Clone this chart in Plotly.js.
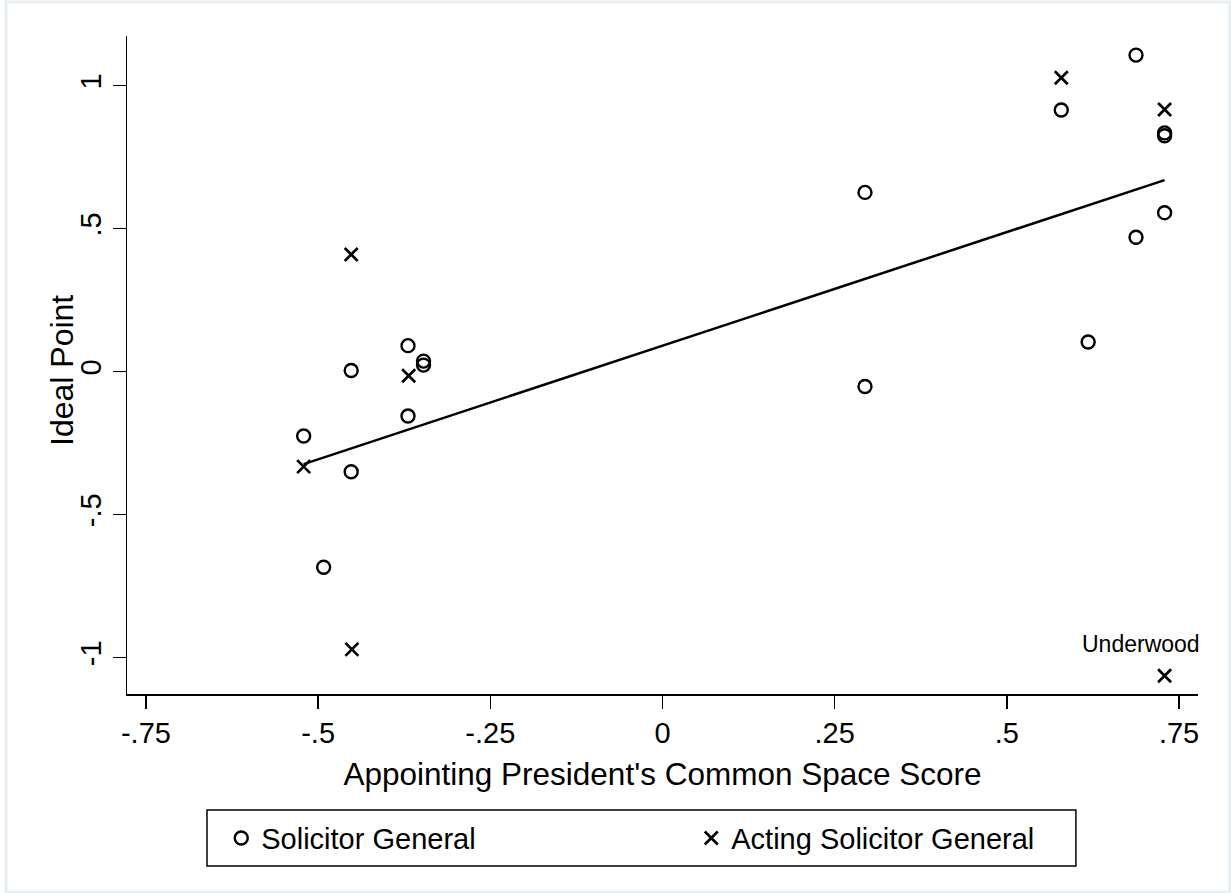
<!DOCTYPE html>
<html>
<head>
<meta charset="utf-8">
<script src="https://cdn.plot.ly/plotly-3.0.1.min.js"></script>
<style>html,body{margin:0;padding:0;background:#fff;}</style>
</head>
<body>
<div id="chart" style="width:1231px;height:893px;"></div>
<script>
// Solicitor General (circles)
const sgX = [-0.3695, -0.347, -0.347, -0.452, -0.3695, -0.521, -0.452, -0.492,
             0.294, 0.294, 0.618, 0.6875, 0.579, 0.729, 0.729, 0.729, 0.6875];
const sgY = [0.091, 0.037, 0.023, 0.004, -0.155, -0.225, -0.350, -0.684,
             0.627, -0.052, 0.104, 1.107, 0.915, 0.835, 0.825, 0.556, 0.470];
// Acting Solicitor General (x)
const actX = [-0.452, -0.3685, -0.521, -0.451, 0.579, 0.729, 0.729];
const actY = [0.410, -0.014, -0.332, -0.971, 1.028, 0.917, -1.063];
const labelName = "Underwood";
const labelX = 0.729, labelY = -1.063;

// fitted line endpoints
const fitX = [-0.521, 0.729];
const fitY = [-0.323, 0.670];

const xTickVals = [-0.75, -0.5, -0.25, 0, 0.25, 0.5, 0.75];
const xTickText = ["-.75", "-.5", "-.25", "0", ".25", ".5", ".75"];
const yTickVals = [-1, -0.5, 0, 0.5, 1];
const yTickText = ["-1", "-.5", "0", ".5", "1"];

const FONT = "Liberation Sans, Arial, Helvetica, sans-serif";

const traces = [
  {x: fitX, y: fitY, mode: 'lines', line: {color: '#000', width: 2.5}, showlegend: false, hoverinfo: 'skip'},
  {x: sgX, y: sgY, mode: 'markers', name: 'Solicitor General',
   marker: {symbol: 'circle-open', size: 13, color: '#000', line: {width: 2.4, color: '#000'}}},
  {x: actX, y: actY, mode: 'markers', name: 'Acting Solicitor General',
   marker: {symbol: 'x-thin-open', size: 13, color: '#000', line: {width: 2.7, color: '#000'}}}
];

const layout = {
  width: 1231, height: 893,
  margin: {l: 127, r: 33, t: 36, b: 199},
  paper_bgcolor: '#fff', plot_bgcolor: '#fff',
  font: {family: FONT, color: '#000', size: 29},
  showlegend: true,
  xaxis: {
    range: [-0.7775, 0.7775], tickvals: xTickVals, ticktext: xTickText,
    showgrid: false, zeroline: false, showline: true, linecolor: '#000', linewidth: 1.5,
    ticks: 'outside', ticklen: 13, tickwidth: 1.5, tickcolor: '#000',
    tickfont: {size: 29, family: FONT},
    title: {text: "Appointing President's Common Space Score", font: {size: 31.5, family: FONT}, standoff: 14}
  },
  yaxis: {
    range: [-1.127, 1.1738], tickvals: yTickVals, ticktext: yTickText, tickangle: -90,
    showgrid: false, zeroline: false, showline: true, linecolor: '#000', linewidth: 1.5,
    ticks: 'outside', ticklen: 13, tickwidth: 1.5, tickcolor: '#000',
    tickfont: {size: 29, family: FONT}
  },
  legend: {
    orientation: 'h', x: 0.088, xanchor: 'left', y: -0.219, yanchor: 'middle',
    font: {size: 29, family: FONT}, bgcolor: 'rgba(0,0,0,0)', borderwidth: 0,
    entrywidth: 425, entrywidthmode: 'pixels', itemwidth: 30
  },
  annotations: [{
    x: labelX, y: labelY, xref: 'x', yref: 'y', text: labelName, showarrow: false,
    xshift: -24, yshift: 32, font: {size: 23, family: FONT, color: '#000'}
  }, {
    x: -0.0607, y: 0.4924, xref: 'paper', yref: 'paper', text: 'Ideal Point', showarrow: false,
    textangle: -90, xanchor: 'center', yanchor: 'middle', font: {size: 32, family: FONT, color: '#000'}
  }],
  shapes: [
    {type: 'rect', xref: 'paper', yref: 'paper', x0: 0.0747, x1: 0.886, y0: -0.2614, y1: -0.1763,
     line: {color: '#000', width: 1.5}, fillcolor: 'rgba(0,0,0,0)'},
    {type: 'rect', xref: 'paper', yref: 'paper', x0: -0.1130, x1: 1.0294, y0: -0.3009, y1: 1.0517,
     line: {color: '#e8eef1', width: 3}, fillcolor: 'rgba(0,0,0,0)'}
  ]
};

Plotly.newPlot('chart', traces, layout, {displayModeBar: false, staticPlot: true});
</script>
</body>
</html>
